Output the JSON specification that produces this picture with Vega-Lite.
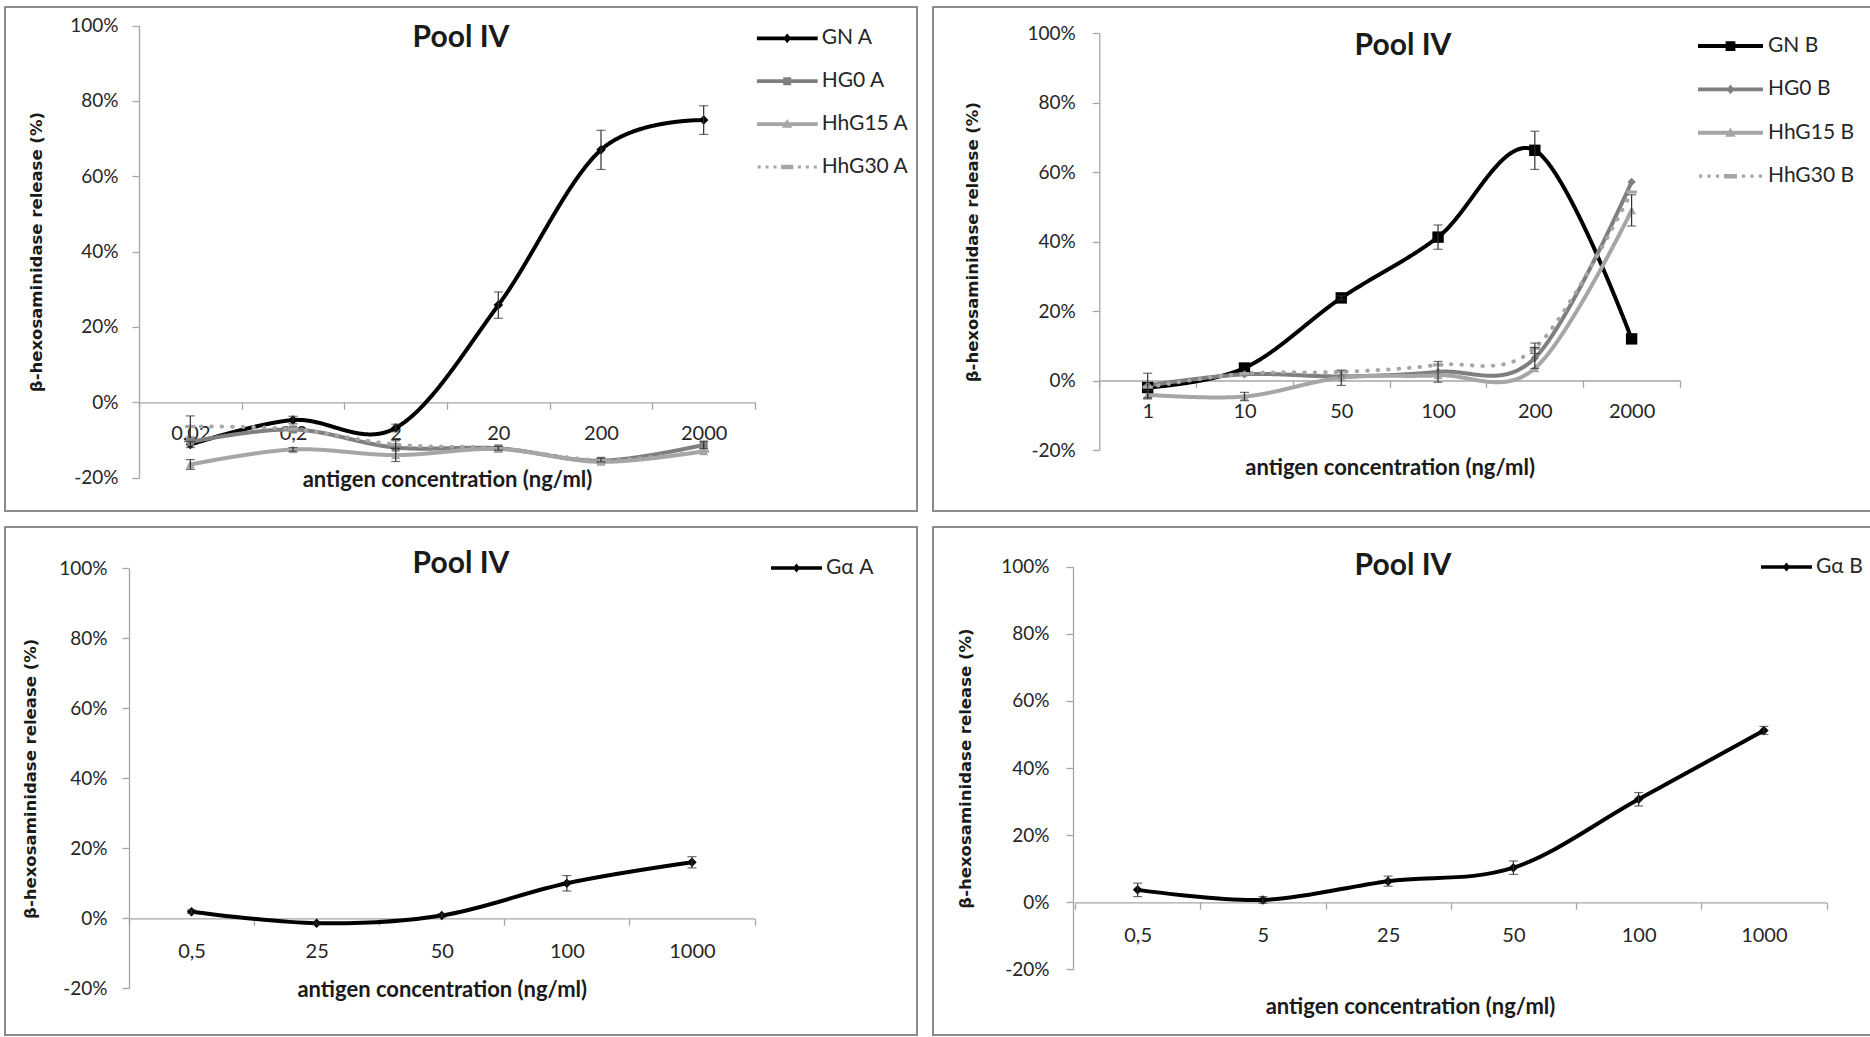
{
  "$schema": "https://vega.github.io/schema/vega-lite/v6.json",
  "background": "white",
  "padding": {"left": 4, "top": 6, "right": 0, "bottom": 0},
  "spacing": 14,
  "resolve": {"scale": {"color": "independent", "strokeDash": "independent", "x": "independent", "y": "independent"}},
  "datasets": {
    "A": [
      {"c": "0,02", "s": "GN A", "v": -0.112, "e": 0.008},
      {"c": "0,2", "s": "GN A", "v": -0.047, "e": 0.01},
      {"c": "2", "s": "GN A", "v": -0.068, "e": 0.01},
      {"c": "20", "s": "GN A", "v": 0.258, "e": 0.035},
      {"c": "200", "s": "GN A", "v": 0.670, "e": 0.052},
      {"c": "2000", "s": "GN A", "v": 0.749, "e": 0.038},
      {"c": "0,02", "s": "HG0 A", "v": -0.105, "e": 0},
      {"c": "0,2", "s": "HG0 A", "v": -0.072, "e": 0},
      {"c": "2", "s": "HG0 A", "v": -0.120, "e": 0},
      {"c": "20", "s": "HG0 A", "v": -0.122, "e": 0.005},
      {"c": "200", "s": "HG0 A", "v": -0.155, "e": 0},
      {"c": "2000", "s": "HG0 A", "v": -0.113, "e": 0.01},
      {"c": "0,02", "s": "HhG15 A", "v": -0.165, "e": 0.013},
      {"c": "0,2", "s": "HhG15 A", "v": -0.125, "e": 0.005},
      {"c": "2", "s": "HhG15 A", "v": -0.140, "e": 0.017},
      {"c": "20", "s": "HhG15 A", "v": -0.124, "e": 0},
      {"c": "200", "s": "HhG15 A", "v": -0.158, "e": 0},
      {"c": "2000", "s": "HhG15 A", "v": -0.130, "e": 0},
      {"c": "0,02", "s": "HhG30 A", "v": -0.064, "e": 0.028},
      {"c": "0,2", "s": "HhG30 A", "v": -0.071, "e": 0},
      {"c": "2", "s": "HhG30 A", "v": -0.112, "e": 0.01},
      {"c": "20", "s": "HhG30 A", "v": -0.122, "e": 0},
      {"c": "200", "s": "HhG30 A", "v": -0.153, "e": 0.005},
      {"c": "2000", "s": "HhG30 A", "v": -0.130, "e": 0}
    ],
    "B": [
      {"c": "1", "s": "GN B", "v": -0.020, "e": 0},
      {"c": "10", "s": "GN B", "v": 0.036, "e": 0},
      {"c": "50", "s": "GN B", "v": 0.238, "e": 0.006},
      {"c": "100", "s": "GN B", "v": 0.413, "e": 0.035},
      {"c": "200", "s": "GN B", "v": 0.663, "e": 0.055},
      {"c": "2000", "s": "GN B", "v": 0.120, "e": 0},
      {"c": "1", "s": "HG0 B", "v": -0.014, "e": 0.035},
      {"c": "10", "s": "HG0 B", "v": 0.018, "e": 0},
      {"c": "50", "s": "HG0 B", "v": 0.012, "e": 0},
      {"c": "100", "s": "HG0 B", "v": 0.025, "e": 0.03},
      {"c": "200", "s": "HG0 B", "v": 0.065, "e": 0.03},
      {"c": "2000", "s": "HG0 B", "v": 0.572, "e": 0},
      {"c": "1", "s": "HhG15 B", "v": -0.041, "e": 0.012},
      {"c": "10", "s": "HhG15 B", "v": -0.046, "e": 0.012},
      {"c": "50", "s": "HhG15 B", "v": 0.008, "e": 0.022},
      {"c": "100", "s": "HhG15 B", "v": 0.015, "e": 0},
      {"c": "200", "s": "HhG15 B", "v": 0.035, "e": 0},
      {"c": "2000", "s": "HhG15 B", "v": 0.490, "e": 0.045},
      {"c": "1", "s": "HhG30 B", "v": -0.019, "e": 0},
      {"c": "10", "s": "HhG30 B", "v": 0.020, "e": 0},
      {"c": "50", "s": "HhG30 B", "v": 0.025, "e": 0},
      {"c": "100", "s": "HhG30 B", "v": 0.045, "e": 0},
      {"c": "200", "s": "HhG30 B", "v": 0.093, "e": 0.015},
      {"c": "2000", "s": "HhG30 B", "v": 0.543, "e": 0}
    ],
    "GA": [
      {"c": "0,5", "s": "Gα A", "v": 0.019, "e": 0.005},
      {"c": "25", "s": "Gα A", "v": -0.014, "e": 0.004},
      {"c": "50", "s": "Gα A", "v": 0.008, "e": 0.005},
      {"c": "100", "s": "Gα A", "v": 0.100, "e": 0.022},
      {"c": "1000", "s": "Gα A", "v": 0.160, "e": 0.016}
    ],
    "GB": [
      {"c": "0,5", "s": "Gα B", "v": 0.037, "e": 0.02},
      {"c": "5", "s": "Gα B", "v": 0.007, "e": 0.01},
      {"c": "25", "s": "Gα B", "v": 0.063, "e": 0.015},
      {"c": "50", "s": "Gα B", "v": 0.103, "e": 0.02},
      {"c": "100", "s": "Gα B", "v": 0.307, "e": 0.02},
      {"c": "1000", "s": "Gα B", "v": 0.512, "e": 0.012}
    ]
  },
  "vconcat": [
    {
      "hconcat": [
        {
          "width": 912, "height": 504,
          "title": {"text": "Pool IV", "offset": -46},
          "data": {"name": "A"},
          "encoding": {
            "x": {"field": "c", "type": "nominal", "bandPosition": 0.5,
              "scale": {"type": "band", "domain": ["0,02", "0,2", "2", "20", "200", "2000"], "range": [134, 750], "paddingInner": 0, "paddingOuter": 0},
              "axis": {"offset": -108.7, "labelPadding": 14, "titleY": 84.3, "title": "antigen concentration (ng/ml)", "tickBand": "extent", "labelOverlap": false}},
            "y": {"field": "v", "type": "quantitative",
              "scale": {"domain": [-0.2, 1], "range": [470.7, 18.5], "nice": false, "zero": false},
              "axis": {"offset": -134, "values": [-0.2, 0, 0.2, 0.4, 0.6, 0.8, 1], "labelPadding": 14, "titleX": -103, "title": "β-hexosaminidase release (%)", "labelExpr": "(datum.value < -0.001 ? '-' : '') + format(abs(datum.value), '.0%')", "labelOverlap": false}}
          },
          "layer": [
            {
              "mark": {"type": "line", "interpolate": "cardinal", "strokeWidth": 4, "strokeCap": "round", "strokeJoin": "round"},
              "encoding": {
                "order": {"value": null},
                "color": {"field": "s", "type": "nominal",
                  "scale": {"domain": ["GN A", "HG0 A", "HhG15 A", "HhG30 A"], "range": ["#000000", "#7f7f7f", "#a6a6a6", "#a6a6a6"]},
                  "legend": {"orient": "none", "legendX": 751.7, "legendY": 21.3, "title": null, "clipHeight": 20, "rowPadding": 21.9, "symbolSize": 3721, "symbolStrokeWidth": 0, "labelFont": "Lato", "labelFontSize": 21, "labelColor": "#262626", "labelOffset": 4, "padding": 0,
                    "encode": {"symbols": {"update": {
                      "shape": {"signal": "datum.value=='GN A' ? 'M-1,-0.06H1V0.06H-1Z M0,-0.16L0.13,0L0,0.16L-0.13,0Z' : datum.value=='HG0 A' ? 'M-1,-0.06H1V0.06H-1Z M-0.13,-0.13H0.13V0.13H-0.13Z' : datum.value=='HhG15 A' ? 'M-1,-0.06H1V0.06H-1Z M0,-0.17L0.17,0.12H-0.17Z' : 'M-0.97,-0.05h0.1v0.1h-0.1Z M-0.71,-0.05h0.1v0.1h-0.1Z M-0.45,-0.05h0.1v0.1h-0.1Z M-0.2,-0.07H0.2V0.07H-0.2Z M0.35,-0.05h0.1v0.1h-0.1Z M0.61,-0.05h0.1v0.1h-0.1Z M0.87,-0.05h0.1v0.1h-0.1Z'"},
                      "fill": {"signal": "datum.value=='GN A' ? '#000000' : datum.value=='HG0 A' ? '#7f7f7f' : '#a6a6a6'"},
                      "fillOpacity": {"value": 1}, "opacity": {"value": 1}, "strokeWidth": {"value": 0}}}}}},
                "strokeDash": {"field": "s", "type": "nominal", "legend": null,
                  "scale": {"domain": ["GN A", "HG0 A", "HhG15 A", "HhG30 A"], "range": [[1, 0], [1, 0], [1, 0], [0.5, 10]]}}
              }
            },
            {"transform": [{"filter": "datum.s == 'GN A'"}], "mark": {"type": "point", "filled": true, "opacity": 1, "strokeWidth": 0, "shape": "diamond", "size": 90, "color": "#000000"}},
            {"transform": [{"filter": "datum.s == 'HG0 A'"}], "mark": {"type": "point", "filled": true, "opacity": 1, "strokeWidth": 0, "shape": "square", "size": 64, "color": "#7f7f7f"}},
            {"transform": [{"filter": "datum.s == 'HhG15 A'"}], "mark": {"type": "point", "filled": true, "opacity": 1, "strokeWidth": 0, "shape": "triangle-up", "size": 81, "color": "#a6a6a6"}},
            {"transform": [{"filter": "datum.s == 'HhG30 A'"}], "mark": {"type": "point", "filled": true, "opacity": 1, "strokeWidth": 0, "shape": "M-1,-0.3H1V0.3H-1Z", "size": 110, "color": "#a6a6a6"}},
            {
              "transform": [{"filter": "datum.e > 0"}],
              "mark": {"type": "errorbar", "ticks": {"size": 9}, "color": "#303030", "thickness": 1.2},
              "encoding": {"yError": {"field": "e"}}
            }
          ]
        },
        {
          "width": 940, "height": 504,
          "title": {"text": "Pool IV", "offset": -54},
          "data": {"name": "B"},
          "encoding": {
            "x": {"field": "c", "type": "nominal", "bandPosition": 0.5,
              "scale": {"type": "band", "domain": ["1", "10", "50", "100", "200", "2000"], "range": [166.3, 747], "paddingInner": 0, "paddingOuter": 0},
              "axis": {"offset": -130.5, "labelPadding": 13.6, "titleY": 94.3, "title": "antigen concentration (ng/ml)", "tickBand": "extent", "labelOverlap": false}},
            "y": {"field": "v", "type": "quantitative",
              "scale": {"domain": [-0.2, 1], "range": [443, 26.3], "nice": false, "zero": false},
              "axis": {"offset": -166.3, "values": [-0.2, 0, 0.2, 0.4, 0.6, 0.8, 1], "labelPadding": 17, "titleX": -127, "title": "β-hexosaminidase release (%)", "labelExpr": "(datum.value < -0.001 ? '-' : '') + format(abs(datum.value), '.0%')", "labelOverlap": false}}
          },
          "layer": [
            {
              "mark": {"type": "line", "interpolate": "cardinal", "strokeWidth": 4, "strokeCap": "round", "strokeJoin": "round"},
              "encoding": {
                "order": {"value": null},
                "color": {"field": "s", "type": "nominal",
                  "scale": {"domain": ["GN B", "HG0 B", "HhG15 B", "HhG30 B"], "range": ["#000000", "#7f7f7f", "#a6a6a6", "#a6a6a6"]},
                  "legend": {"orient": "none", "legendX": 765, "legendY": 29, "title": null, "clipHeight": 20, "rowPadding": 22.4, "symbolSize": 4225, "symbolStrokeWidth": 0, "labelFont": "Lato", "labelFontSize": 21, "labelColor": "#262626", "labelOffset": 5, "padding": 0,
                    "encode": {"symbols": {"update": {
                      "shape": {"signal": "datum.value=='GN B' ? 'M-1,-0.06H1V0.06H-1Z M-0.15,-0.15H0.15V0.15H-0.15Z' : datum.value=='HG0 B' ? 'M-1,-0.06H1V0.06H-1Z M0,-0.15L0.12,0L0,0.15L-0.12,0Z' : datum.value=='HhG15 B' ? 'M-1,-0.06H1V0.06H-1Z M0,-0.16L0.16,0.12H-0.16Z' : 'M-0.97,-0.05h0.1v0.1h-0.1Z M-0.71,-0.05h0.1v0.1h-0.1Z M-0.45,-0.05h0.1v0.1h-0.1Z M-0.2,-0.07H0.2V0.07H-0.2Z M0.35,-0.05h0.1v0.1h-0.1Z M0.61,-0.05h0.1v0.1h-0.1Z M0.87,-0.05h0.1v0.1h-0.1Z'"},
                      "fill": {"signal": "datum.value=='GN B' ? '#000000' : datum.value=='HG0 B' ? '#7f7f7f' : '#a6a6a6'"},
                      "fillOpacity": {"value": 1}, "opacity": {"value": 1}, "strokeWidth": {"value": 0}}}}}},
                "strokeDash": {"field": "s", "type": "nominal", "legend": null,
                  "scale": {"domain": ["GN B", "HG0 B", "HhG15 B", "HhG30 B"], "range": [[1, 0], [1, 0], [1, 0], [0.5, 10]]}}
              }
            },
            {"transform": [{"filter": "datum.s == 'GN B'"}], "mark": {"type": "point", "filled": true, "opacity": 1, "strokeWidth": 0, "shape": "square", "size": 130, "color": "#000000"}},
            {"transform": [{"filter": "datum.s == 'HG0 B'"}], "mark": {"type": "point", "filled": true, "opacity": 1, "strokeWidth": 0, "shape": "diamond", "size": 70, "color": "#7f7f7f"}},
            {"transform": [{"filter": "datum.s == 'HhG15 B'"}], "mark": {"type": "point", "filled": true, "opacity": 1, "strokeWidth": 0, "shape": "triangle-up", "size": 81, "color": "#a6a6a6"}},
            {"transform": [{"filter": "datum.s == 'HhG30 B'"}], "mark": {"type": "point", "filled": true, "opacity": 1, "strokeWidth": 0, "shape": "M-1,-0.3H1V0.3H-1Z", "size": 110, "color": "#a6a6a6"}},
            {
              "transform": [{"filter": "datum.e > 0"}],
              "mark": {"type": "errorbar", "ticks": {"size": 9}, "color": "#303030", "thickness": 1.2},
              "encoding": {"yError": {"field": "e"}}
            }
          ]
        }
      ],
      "spacing": 14,
      "resolve": {"scale": {"color": "independent", "strokeDash": "independent", "x": "independent", "y": "independent"}}
    },
    {
      "hconcat": [
        {
          "width": 912, "height": 508,
          "title": {"text": "Pool IV", "offset": -52},
          "data": {"name": "GA"},
          "encoding": {
            "x": {"field": "c", "type": "nominal", "bandPosition": 0.5,
              "scale": {"type": "band", "domain": ["0,5", "25", "50", "100", "1000"], "range": [124, 749.5], "paddingInner": 0, "paddingOuter": 0},
              "axis": {"offset": -116.7, "labelPadding": 16, "titleY": 78.4, "title": "antigen concentration (ng/ml)", "tickBand": "extent", "labelOverlap": false}},
            "y": {"field": "v", "type": "quantitative",
              "scale": {"domain": [-0.2, 1], "range": [461.3, 41.3], "nice": false, "zero": false},
              "axis": {"offset": -124, "values": [-0.2, 0, 0.2, 0.4, 0.6, 0.8, 1], "labelPadding": 15, "titleX": -99, "title": "β-hexosaminidase release (%)", "labelExpr": "(datum.value < -0.001 ? '-' : '') + format(abs(datum.value), '.0%')", "labelOverlap": false}}
          },
          "layer": [
            {
              "mark": {"type": "line", "interpolate": "cardinal", "strokeWidth": 4, "strokeCap": "round", "strokeJoin": "round"},
              "encoding": {
                "order": {"value": null},
                "color": {"field": "s", "type": "nominal",
                  "scale": {"domain": ["Gα A"], "range": ["#000000"]},
                  "legend": {"orient": "none", "legendX": 766, "legendY": 31, "title": null, "clipHeight": 20, "rowPadding": 22, "symbolSize": 2601, "symbolStrokeWidth": 0, "labelFont": "Lato", "labelFontSize": 21, "labelColor": "#262626", "labelOffset": 4, "padding": 0,
                    "encode": {"symbols": {"update": {
                      "shape": {"value": "M-1,-0.07H1V0.07H-1Z M0,-0.18L0.15,0L0,0.18L-0.15,0Z"},
                      "fill": {"value": "#000000"},
                      "fillOpacity": {"value": 1}, "opacity": {"value": 1}, "strokeWidth": {"value": 0}}}}}}
              }
            },
            {
              "mark": {"type": "point", "filled": true, "opacity": 1, "strokeWidth": 0, "shape": "diamond", "size": 90, "color": "#000000"}
            },
            {
              "transform": [{"filter": "datum.e > 0"}],
              "mark": {"type": "errorbar", "ticks": {"size": 9}, "color": "#303030", "thickness": 1.2},
              "encoding": {"yError": {"field": "e"}}
            }
          ]
        },
        {
          "width": 940, "height": 508,
          "title": {"text": "Pool IV", "offset": -54},
          "data": {"name": "GB"},
          "encoding": {
            "x": {"field": "c", "type": "nominal", "bandPosition": 0.5,
              "scale": {"type": "band", "domain": ["0,5", "5", "25", "50", "100", "1000"], "range": [142, 893.5], "paddingInner": 0, "paddingOuter": 0},
              "axis": {"offset": -132.7, "labelPadding": 16, "titleY": 111, "titleX": 477, "title": "antigen concentration (ng/ml)", "tickBand": "extent", "labelOverlap": false}},
            "y": {"field": "v", "type": "quantitative",
              "scale": {"domain": [-0.2, 1], "range": [442.4, 39.7], "nice": false, "zero": false},
              "axis": {"offset": -140, "values": [-0.2, 0, 0.2, 0.4, 0.6, 0.8, 1], "labelPadding": 17, "titleX": -108, "title": "β-hexosaminidase release (%)", "labelExpr": "(datum.value < -0.001 ? '-' : '') + format(abs(datum.value), '.0%')", "labelOverlap": false}}
          },
          "layer": [
            {
              "mark": {"type": "line", "interpolate": "cardinal", "strokeWidth": 4, "strokeCap": "round", "strokeJoin": "round"},
              "encoding": {
                "order": {"value": null},
                "color": {"field": "s", "type": "nominal",
                  "scale": {"domain": ["Gα B"], "range": ["#000000"]},
                  "legend": {"orient": "none", "legendX": 828, "legendY": 30, "title": null, "clipHeight": 20, "rowPadding": 22, "symbolSize": 2601, "symbolStrokeWidth": 0, "labelFont": "Lato", "labelFontSize": 21, "labelColor": "#262626", "labelOffset": 4, "padding": 0,
                    "encode": {"symbols": {"update": {
                      "shape": {"value": "M-1,-0.07H1V0.07H-1Z M0,-0.18L0.15,0L0,0.18L-0.15,0Z"},
                      "fill": {"value": "#000000"},
                      "fillOpacity": {"value": 1}, "opacity": {"value": 1}, "strokeWidth": {"value": 0}}}}}}
              }
            },
            {
              "mark": {"type": "point", "filled": true, "opacity": 1, "strokeWidth": 0, "shape": "diamond", "size": 90, "color": "#000000"}
            },
            {
              "transform": [{"filter": "datum.e > 0"}],
              "mark": {"type": "errorbar", "ticks": {"size": 9}, "color": "#303030", "thickness": 1.2},
              "encoding": {"yError": {"field": "e"}}
            }
          ]
        }
      ],
      "spacing": 14,
      "resolve": {"scale": {"color": "independent", "strokeDash": "independent", "x": "independent", "y": "independent"}}
    }
  ],
  "config": {
    "view": {"stroke": "#8c8c8c", "strokeWidth": 2},
    "axis": {"grid": false, "domainColor": "#a6a6a6", "domainWidth": 1.3, "tickColor": "#a6a6a6", "tickWidth": 1.3, "tickSize": 7, "labelFont": "Lato", "labelColor": "#262626", "titleColor": "#1a1a1a"},
    "axisX": {"labelFontSize": 20, "labelAngle": 0, "titleFont": "Lato", "titleFontSize": 22, "titleFontWeight": "bold", "titleBaseline": "alphabetic"},
    "axisY": {"labelFontSize": 19, "titleFont": "DejaVu Sans", "titleFontSize": 16.5, "titleFontWeight": "bold", "titleBaseline": "middle"},
    "title": {"font": "Lato", "fontSize": 30, "fontWeight": "bold", "color": "#1a1a1a", "anchor": "middle", "frame": "group"}
  }
}
